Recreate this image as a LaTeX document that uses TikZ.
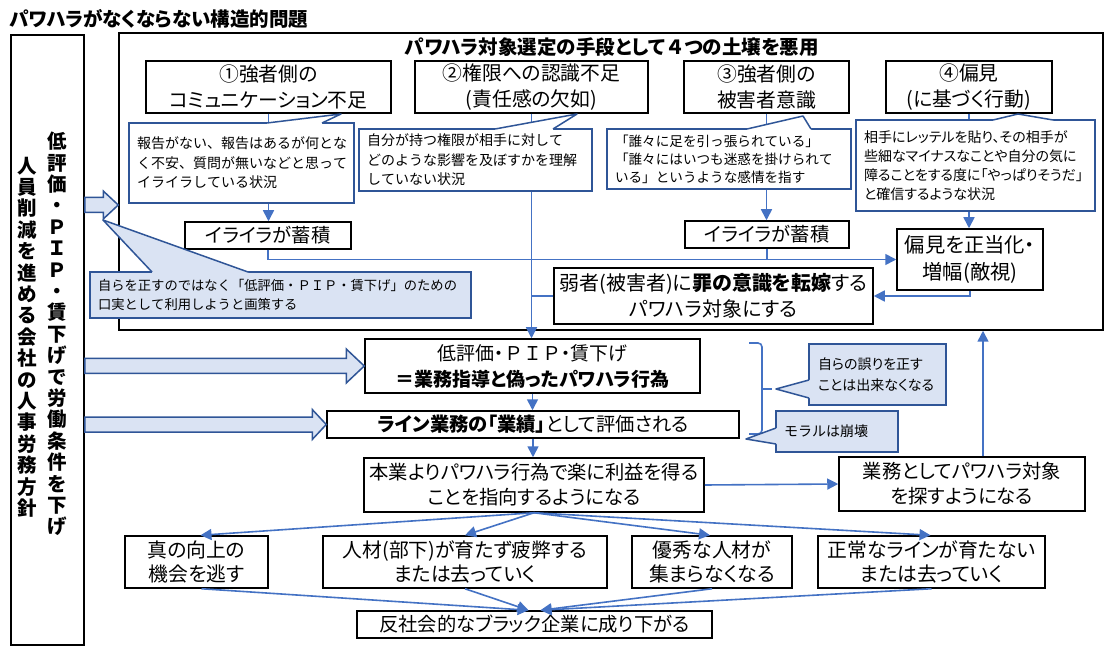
\documentclass[tikz,border=0pt]{standalone}
\usepackage{fontspec}
\setmainfont{Noto Sans CJK JP}[RawFeature={+palt}]
\newfontfamily\nopalt{Noto Sans CJK JP}[Kerning=Off]
\usetikzlibrary{arrows.meta,calc}
\definecolor{cblue}{HTML}{4472C4}
\definecolor{dblue}{HTML}{2F5597}
\definecolor{lblue}{HTML}{DAE3F3}
\tikzset{
  box/.style={draw=black, line width=1.5pt, fill=white, inner sep=0pt, align=center, font=\fontsize{19.3}{25}\selectfont},
  hdr/.style={box, font=\fontsize{19.8}{26}\selectfont},
  callbox/.style={draw=dblue, line width=1.5pt, fill=white, inner xsep=8pt, inner ysep=0pt, align=left, font=\nopalt\fontsize{14}{19.5}\selectfont},
  lcallbox/.style={callbox, fill=lblue},
  wedgeline/.style={draw=dblue, line width=1.5pt, line join=round},
  conn/.style={draw=cblue, line width=1.6pt},
  arr/.style={conn, -{Triangle[length=11pt,width=11pt]}},
  hollow/.style={draw=dblue, fill=lblue, line width=1.5pt},
  vtext/.style={font=\bfseries\fontsize{19.5}{21.4}\selectfont, align=center, inner sep=0pt},
}
\newcommand\calloutwedge[5]{%
  \fill[#1] ($#2+#5$) -- #2 -- #3 -- #4 -- ($#4+#5$) -- cycle;
  \draw[wedgeline] #2 -- #3 -- #4;}
\newcommand\hollowarrow[5]{%
  \draw[hollow] ([yshift=#3]#1) -- ([xshift=-#5,yshift=#3]#2) -- ([xshift=-#5,yshift=#4]#2) -- (#2) -- ([xshift=-#5,yshift=-#4]#2) -- ([xshift=-#5,yshift=-#3]#2) -- ([yshift=-#3]#1) -- cycle;}
\begin{document}
\begin{tikzpicture}[x=1pt,y=-1pt]
\fill[white] (0,0) rectangle (1117,652);
\useasboundingbox (0,0) rectangle (1117,652);

% title
\node[anchor=west, inner sep=0pt, font=\bfseries\fontsize{19.5}{21}\selectfont] (title) at (9,18.5) {パワハラがなくならない構造的問題};

% left policy box
\node[draw, line width=1.5pt, minimum width=73, minimum height=610, inner sep=0pt] (L) at (47.5,340) {};
\node[vtext] (lv1) at (57,334) {低\\評\\価\\・\\Ｐ\\Ｉ\\Ｐ\\・\\賃\\下\\げ\\で\\労\\働\\条\\件\\を\\下\\げ};
\node[vtext] (lv2) at (27,337) {人\\員\\削\\減\\を\\進\\め\\る\\会\\社\\の\\人\\事\\労\\務\\方\\針};

% big frame
\node[draw, line width=1.5pt, minimum width=984, minimum height=297, inner sep=0pt] (BB) at (611,181.5) {};
\node[inner sep=0pt, font=\bfseries\fontsize{19.5}{21}\selectfont] (bbt) at (612,47) {パワハラ対象選定の手段として{\nopalt ４}つの土壌を悪用};

% headers
\node[hdr, minimum width=245, minimum height=52] (H1) at (268.5,87) {①強者側の\\コミュニケーション不足};
\node[hdr, minimum width=233, minimum height=52] (H2) at (531.5,87) {②権限への認識不足\\(責任感の欠如)};
\node[hdr, minimum width=165, minimum height=52] (H3) at (766.5,87) {③強者側の\\被害者意識};
\node[hdr, minimum width=166, minimum height=52] (H4) at (969,87) {④偏見\\(に基づく行動)};

% inner boxes
\node[box, minimum width=166, minimum height=27] (I1) at (268,235.5) {イライラが蓄積};
\node[box, minimum width=164, minimum height=27] (I2) at (767,234.5) {イライラが蓄積};
\node[box, minimum width=146, minimum height=61, font=\fontsize{20.3}{27}\selectfont] (PB) at (970,259.5) {偏見を正当化・\\増幅(敵視)};
\node[box, minimum width=319, minimum height=56, font=\fontsize{20}{26}\selectfont] (W) at (713.5,296) {弱者(被害者)に\textbf{罪の意識を転嫁}する\\パワハラ対象にする};

% middle chain
\node[box, minimum width=335, minimum height=54, font=\fontsize{19}{26}\selectfont] (P1) at (532.5,366) {低評価・{\nopalt ＰＩＰ}・賃下げ\\\textbf{＝業務指導と偽ったパワハラ行為}};
\node[box, minimum width=412, minimum height=27] (P2) at (533,424.5) {\textbf{ライン業務の「業績」}として評価される};
\node[box, minimum width=340, minimum height=54] (P3) at (534,485) {本業よりパワハラ行為で楽に利益を得る\\ことを指向するようになる};
\node[box, minimum width=246, minimum height=54] (S) at (962,484) {業務としてパワハラ対象\\を探すようになる};

% bottom row
\node[box, minimum width=143, minimum height=52, font=\fontsize{19.8}{24}\selectfont] (B1) at (196.5,562) {真の向上の\\機会を逃す};
\node[box, minimum width=284, minimum height=52, font=\fontsize{19.8}{24}\selectfont] (B2) at (465,562) {人材(部下)が育たず疲弊する\\または去っていく};
\node[box, minimum width=160, minimum height=52, font=\fontsize{19.8}{24}\selectfont] (B3) at (712,562) {優秀な人材が\\集まらなくなる};
\node[box, minimum width=227, minimum height=52, font=\fontsize{19.8}{24}\selectfont] (B4) at (931.5,562) {正常なラインが育たない\\または去っていく};
\node[box, minimum width=355, minimum height=27] (F) at (534.5,624.5) {反社会的なブラック企業に成り下がる};

% connectors
\draw[arr] (H1.south) -- (H1.south |- I1.north);
\draw[arr] (H2.south) -- (H2.south |- P1.north);
\draw[arr] (H3.south) -- (H3.south |- I2.north);
\draw[arr] (H4.south) -- (H4.south |- PB.north);
\draw[arr] (I1.south) |- (PB.west);
\draw[conn] (I2.south) -- (I2.south |- PB.west);
\draw[arr] (PB.south) |- (W.east);
\draw[conn] (W.west) -- (W.west -| H2.south);
\draw[arr] (P1.south) -- (P1.south |- P2.north);
\draw[arr] (P2.south) -- (P2.south |- P3.north);
\draw[arr] (P3.east) -- (S.west);
\draw[arr] ([xshift=21]S.north) -- ([xshift=21]S.north |- BB.south);
\draw[arr] (P3.south) -- ([xshift=4]B1.north);
\draw[arr] (P3.south) -- (B2.north);
\draw[arr] (P3.south) -- ([xshift=-2]B3.north);
\draw[arr] (P3.south) -- ([xshift=-1]B4.north);
\draw[arr] ([xshift=5]B1.south) -- ([xshift=-6]F.north);
\draw[arr] (B2.south) -- ([xshift=-6]F.north);
\draw[arr] (B3.south) -- ([xshift=6]F.north);
\draw[arr] (B4.south) -- ([xshift=6]F.north);

% hollow arrows from the policy box
\coordinate (a1s) at (L.east |- 0,205);
\coordinate (a1e) at (BB.west |- 0,205);
\coordinate (a2s) at (L.east |- P1.west);
\coordinate (a3s) at (L.east |- P2.west);
\hollowarrow{a1s}{a1e}{7.5}{14}{15}
\hollowarrow{a2s}{P1.west}{7.5}{17}{18}
\hollowarrow{a3s}{P2.west}{7.5}{15}{14}

% callouts under headers
\node[callbox, minimum width=225, minimum height=80, text width=209] (C1) at (241.5,163) {報告がない、報告はあるが何とな\\く不安、質問が無いなどと思って\\イライラしている状況};
\calloutwedge{white}{(267,123)}{(341,114)}{(322,123)}{(0,2)}
\node[callbox, minimum width=233, minimum height=62, text width=217] (C2) at (475.5,160) {自分が持つ権限が相手に対して\\どのような影響を及ぼすかを理解\\していない状況};
\calloutwedge{white}{(495,129)}{(577,114)}{(553,129)}{(0,2)}
\node[callbox, minimum width=244, minimum height=60, text width=228, font=\nopalt\fontsize{13.6}{18}\selectfont] (C3) at (729,159) {「誰々に足を引っ張られている」\\「誰々にはいつも迷惑を掛けられて\\いる」というような感情を指す};
\calloutwedge{white}{(747,129)}{(803,116)}{(811,129)}{(0,2)}
\node[callbox, minimum width=239, minimum height=91, text width=223, font=\fontsize{14}{19}\selectfont] (C4) at (975.5,165.5) {相手にレッテルを貼り、その相手が\\些細なマイナスなことや自分の気に\\障ることをする度に「やっぱりそうだ」\\と確信するような状況};
\calloutwedge{white}{(993,120)}{(1018,114)}{(1053,120)}{(0,2)}

% light callouts
\node[lcallbox, minimum width=381, minimum height=46, text width=365, font=\nopalt\fontsize{13.3}{19}\selectfont] (K0) at (280.5,295) {自らを正すのではなく「低評価・ＰＩＰ・賃下げ」のための\\口実として利用しようと画策する};
\calloutwedge{lblue}{(152,272)}{(103,220)}{(248,272)}{(0,2)}

\draw[conn, rounded corners=4] (749,343) -- (762,343) -- (762,434) -- (749,434);
\draw[conn] (762,389) -- (772,389);
\node[lcallbox, minimum width=137, minimum height=61, text width=119, inner xsep=9pt, font=\fontsize{14}{21}\selectfont] (K1) at (877.5,374.5) {自らの誤りを正す\\ことは出来なくなる};
\calloutwedge{lblue}{(809,380)}{(776,389)}{(809,398)}{(2,0)}
\node[lcallbox, minimum width=122, minimum height=41, text width=106] (K2) at (837,431.5) {モラルは崩壊};
\calloutwedge{lblue}{(776,428)}{(746,439)}{(776,444)}{(2,0)}
\end{tikzpicture}
\end{document}
